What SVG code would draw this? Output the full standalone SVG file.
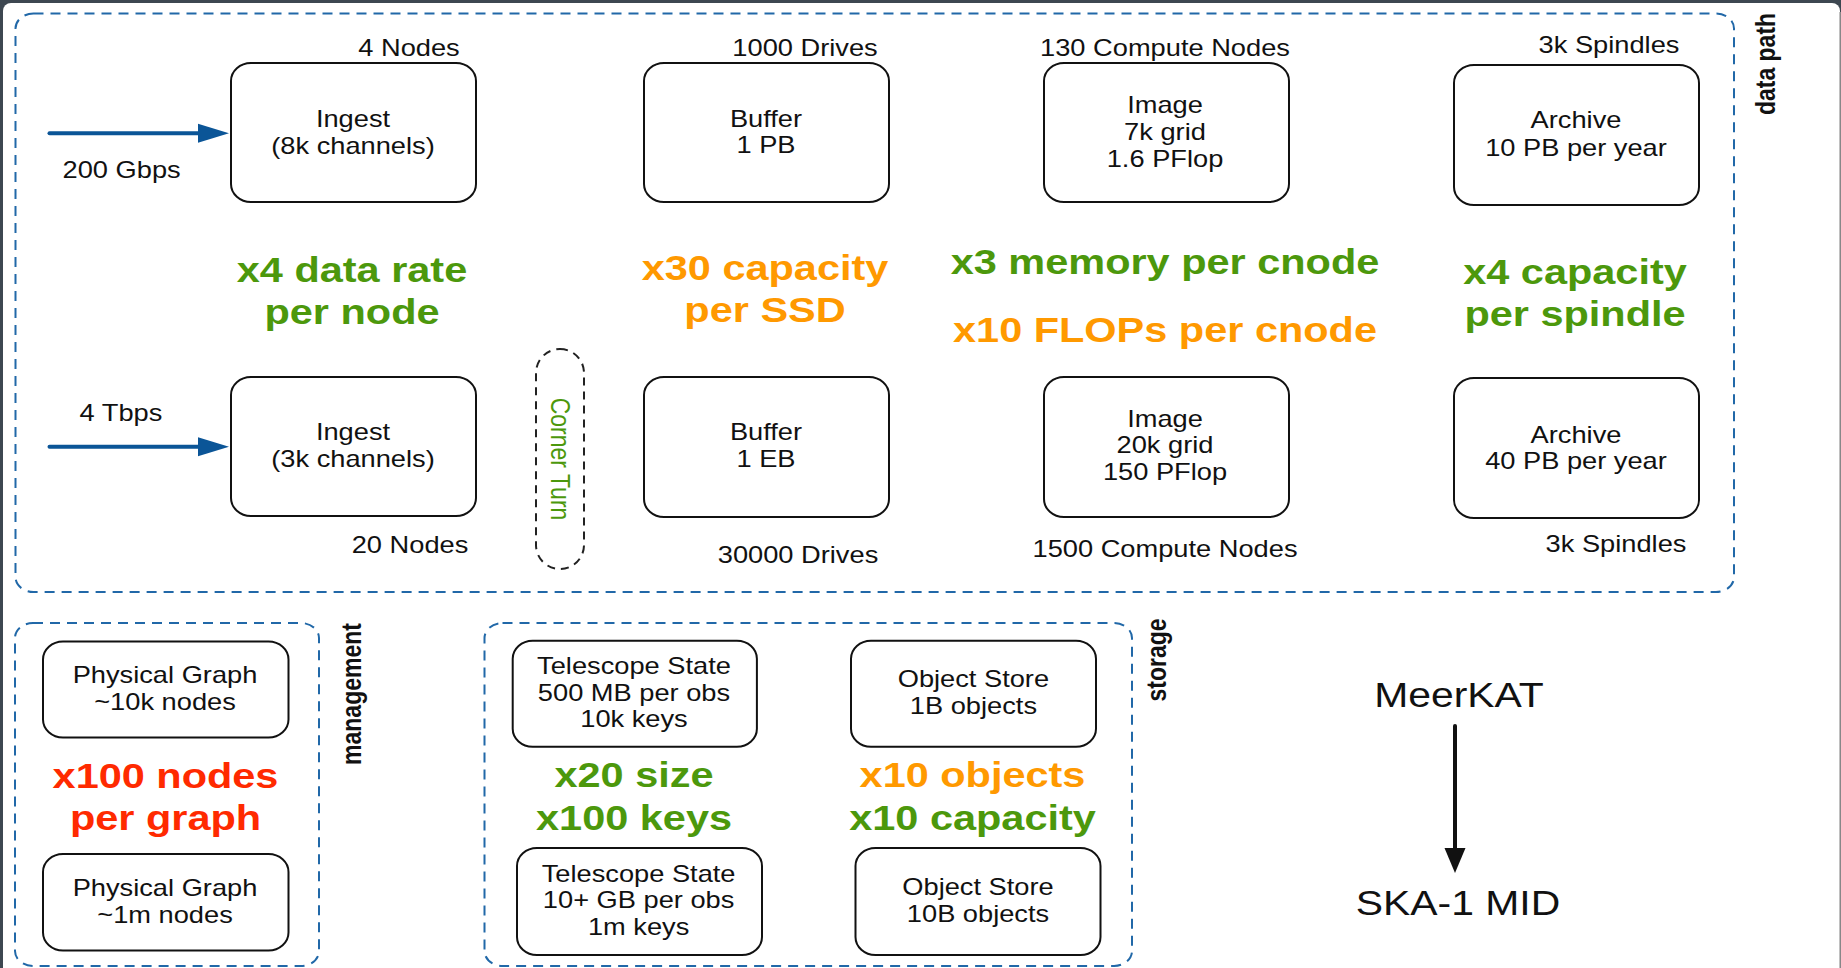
<svg xmlns="http://www.w3.org/2000/svg" width="1841" height="968" viewBox="0 0 1841 968">
<style>
.box{fill:#fff;stroke:#111;stroke-width:2}
.grp{fill:none;stroke:#2168a8;stroke-width:2;stroke-dasharray:10 7}
.ct{fill:none;stroke:#222;stroke-width:2;stroke-dasharray:8 6}
.n{font-family:"Liberation Sans",Arial,sans-serif;font-size:23px;fill:#111;text-anchor:middle}
.lab{font-family:"Liberation Sans",Arial,sans-serif;font-size:23px;font-weight:bold;fill:#111;text-anchor:middle}
.b{font-family:"Liberation Sans",Arial,sans-serif;font-size:35px;font-weight:bold;text-anchor:middle}
.big{font-family:"Liberation Sans",Arial,sans-serif;font-size:34.5px;fill:#111;text-anchor:middle}
.g{fill:#4c980c}
.o{fill:#ff9900}
.r{fill:#ff2a00}
.blue{stroke:#0b5597;stroke-width:4;stroke-linecap:round;fill:none}
.blk{stroke:#111;stroke-width:4;stroke-linecap:round;fill:none}
</style>
<defs>
<marker id="ab" markerUnits="userSpaceOnUse" markerWidth="31" markerHeight="19" refX="0" refY="9.5" orient="auto" overflow="visible"><path d="M0,0 L31,9.5 L0,19 z" fill="#0b5597"/></marker>
<marker id="ak" markerUnits="userSpaceOnUse" markerWidth="25" markerHeight="21" refX="0" refY="10.5" orient="auto" overflow="visible"><path d="M0,0 L25,10.5 L0,21 z" fill="#111"/></marker>
</defs>
<rect x="0" y="0" width="1841" height="968" fill="#3d4751"/>
<rect x="3" y="3" width="1837" height="1000" rx="8" fill="#fff"/>
<line x1="1840.2" y1="12" x2="1840.2" y2="968" stroke="#8c8c8c" stroke-width="1.5"/>

<g id="datapath">
<rect class="grp" x="15.5" y="13.5" width="1718.5" height="578.5" rx="18" ry="15"/>
<text class="lab" transform="translate(1775,64) scale(1.185,1) rotate(-90)">data path</text>
</g>
<g id="management">
<rect class="grp" x="15" y="623" width="304" height="343" rx="18" ry="15"/>
<text class="lab" transform="translate(361,694) scale(1.185,1) rotate(-90)">management</text>
</g>
<g id="storage">
<rect class="grp" x="484.5" y="623" width="647.5" height="343" rx="18" ry="15"/>
<text class="lab" transform="translate(1166,660) scale(1.185,1) rotate(-90)">storage</text>
</g>

<g id="connectors">
<line class="blue" x1="49.5" y1="133.3" x2="198" y2="133.3" marker-end="url(#ab)"/>
<line class="blue" x1="49.5" y1="446.7" x2="198" y2="446.7" marker-end="url(#ab)"/>
<line class="blk" x1="1455" y1="726" x2="1455" y2="848" marker-end="url(#ak)"/>
</g>

<g id="input-labels">
<text class="n" transform="translate(121.6,178) scale(1.185,1)">200 Gbps</text>
<text class="n" transform="translate(121,420.5) scale(1.185,1)">4 Tbps</text>
</g>

<g id="ingest1">
<rect class="box" x="231" y="63" width="245" height="139" rx="20" ry="18"/>
<text class="n" transform="translate(353,126.5) scale(1.185,1)"><tspan x="0" y="0">Ingest</tspan><tspan x="0" dy="27.5">(8k channels)</tspan></text>
<text class="n" transform="translate(409,56) scale(1.185,1)">4 Nodes</text>
</g>
<g id="buffer1">
<rect class="box" x="644" y="63" width="245" height="139" rx="20" ry="18"/>
<text class="n" transform="translate(766,126.7) scale(1.185,1)"><tspan x="0" y="0">Buffer</tspan><tspan x="0" dy="26.7">1 PB</tspan></text>
<text class="n" transform="translate(805,56) scale(1.185,1)">1000 Drives</text>
</g>
<g id="image1">
<rect class="box" x="1044" y="63" width="245" height="139" rx="20" ry="18"/>
<text class="n" transform="translate(1165,113.3) scale(1.185,1)"><tspan x="0" y="0">Image</tspan><tspan x="0" dy="26.7">7k grid</tspan><tspan x="0" dy="26.7">1.6 PFlop</tspan></text>
<text class="n" transform="translate(1165,56) scale(1.185,1)">130 Compute Nodes</text>
</g>
<g id="archive1">
<rect class="box" x="1454" y="65" width="245" height="140" rx="20" ry="18"/>
<text class="n" transform="translate(1576,128.3) scale(1.185,1)"><tspan x="0" y="0">Archive</tspan><tspan x="0" dy="27.4">10 PB per year</tspan></text>
<text class="n" transform="translate(1609,53) scale(1.185,1)">3k Spindles</text>
</g>

<g id="ingest2">
<rect class="box" x="231" y="377" width="245" height="139" rx="20" ry="18"/>
<text class="n" transform="translate(353,440) scale(1.185,1)"><tspan x="0" y="0">Ingest</tspan><tspan x="0" dy="27.5">(3k channels)</tspan></text>
<text class="n" transform="translate(410,553) scale(1.185,1)">20 Nodes</text>
</g>
<g id="cornerturn">
<rect class="ct" x="536" y="349" width="48" height="220" rx="24" ry="24"/>
<text class="n g" transform="translate(551,459) scale(1.185,1) rotate(90)">Corner Turn</text>
</g>
<g id="buffer2">
<rect class="box" x="644" y="377" width="245" height="140" rx="20" ry="18"/>
<text class="n" transform="translate(766,440) scale(1.185,1)"><tspan x="0" y="0">Buffer</tspan><tspan x="0" dy="26.7">1 EB</tspan></text>
<text class="n" transform="translate(798,562.5) scale(1.185,1)">30000 Drives</text>
</g>
<g id="image2">
<rect class="box" x="1044" y="377" width="245" height="140" rx="20" ry="18"/>
<text class="n" transform="translate(1165,426.7) scale(1.185,1)"><tspan x="0" y="0">Image</tspan><tspan x="0" dy="26.7">20k grid</tspan><tspan x="0" dy="26.7">150 PFlop</tspan></text>
<text class="n" transform="translate(1165,556.5) scale(1.185,1)">1500 Compute Nodes</text>
</g>
<g id="archive2">
<rect class="box" x="1454" y="378" width="245" height="140" rx="20" ry="18"/>
<text class="n" transform="translate(1576,442.7) scale(1.185,1)"><tspan x="0" y="0">Archive</tspan><tspan x="0" dy="26.6">40 PB per year</tspan></text>
<text class="n" transform="translate(1616,552) scale(1.185,1)">3k Spindles</text>
</g>

<g id="datapath-notes">
<text class="b g" transform="translate(352,282) scale(1.185,1)"><tspan x="0" y="0">x4 data rate</tspan><tspan x="0" dy="42">per node</tspan></text>
<text class="b o" transform="translate(765,280) scale(1.185,1)"><tspan x="0" y="0">x30 capacity</tspan><tspan x="0" dy="42">per SSD</tspan></text>
<text class="b g" transform="translate(1165,273.5) scale(1.185,1)">x3 memory per cnode</text>
<text class="b o" transform="translate(1165,341.5) scale(1.185,1)">x10 FLOPs per cnode</text>
<text class="b g" transform="translate(1575,284) scale(1.185,1)"><tspan x="0" y="0">x4 capacity</tspan><tspan x="0" dy="42">per spindle</tspan></text>
</g>

<g id="pgraph1">
<rect class="box" x="43" y="641.5" width="245.5" height="96" rx="20" ry="18"/>
<text class="n" transform="translate(165,683.3) scale(1.185,1)"><tspan x="0" y="0">Physical Graph</tspan><tspan x="0" dy="26.7">~10k nodes</tspan></text>
</g>
<g id="pgraph2">
<rect class="box" x="43" y="854" width="245.5" height="96.5" rx="20" ry="18"/>
<text class="n" transform="translate(165,896) scale(1.185,1)"><tspan x="0" y="0">Physical Graph</tspan><tspan x="0" dy="27.3">~1m nodes</tspan></text>
</g>
<text class="b r" transform="translate(165.5,788.3) scale(1.185,1)"><tspan x="0" y="0">x100 nodes</tspan><tspan x="0" dy="41.7">per graph</tspan></text>

<g id="telstate1">
<rect class="box" x="512.7" y="640.7" width="244.2" height="106" rx="20" ry="18"/>
<text class="n" transform="translate(634,674) scale(1.185,1)"><tspan x="0" y="0">Telescope State</tspan><tspan x="0" dy="26.7">500 MB per obs</tspan><tspan x="0" dy="26.7">10k keys</tspan></text>
</g>
<g id="objstore1">
<rect class="box" x="851" y="640.7" width="245" height="106" rx="20" ry="18"/>
<text class="n" transform="translate(973.4,687.3) scale(1.185,1)"><tspan x="0" y="0">Object Store</tspan><tspan x="0" dy="26.7">1B objects</tspan></text>
</g>
<g id="telstate2">
<rect class="box" x="517" y="848" width="245" height="107" rx="20" ry="18"/>
<text class="n" transform="translate(638.6,881.7) scale(1.185,1)"><tspan x="0" y="0">Telescope State</tspan><tspan x="0" dy="26.7">10+ GB per obs</tspan><tspan x="0" dy="26.7">1m keys</tspan></text>
</g>
<g id="objstore2">
<rect class="box" x="855.5" y="848" width="245" height="107" rx="20" ry="18"/>
<text class="n" transform="translate(978,895) scale(1.185,1)"><tspan x="0" y="0">Object Store</tspan><tspan x="0" dy="26.7">10B objects</tspan></text>
</g>
<g id="storage-notes">
<text class="b g" transform="translate(634,786.7) scale(1.185,1)"><tspan x="0" y="0">x20 size</tspan><tspan x="0" dy="43.3">x100 keys</tspan></text>
<text class="b o" transform="translate(972.5,786.7) scale(1.185,1)">x10 objects</text>
<text class="b g" transform="translate(972.5,830) scale(1.185,1)">x10 capacity</text>
</g>

<g id="meerkat">
<text class="big" transform="translate(1459,706.7) scale(1.185,1)">MeerKAT</text>
</g>
<g id="ska">
<text class="big" transform="translate(1458,915) scale(1.185,1)">SKA-1 MID</text>
</g>
</svg>
